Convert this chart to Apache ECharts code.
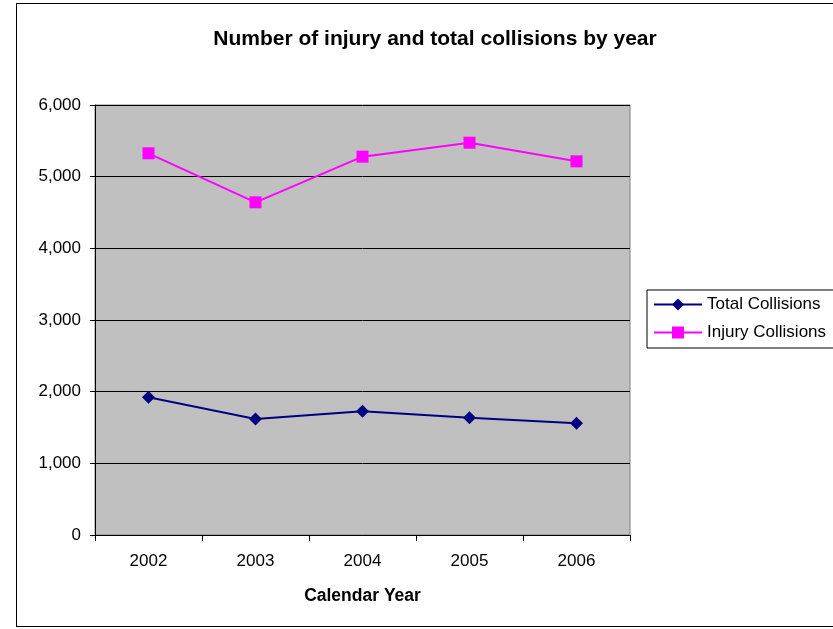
<!DOCTYPE html>
<html>
<head>
<meta charset="utf-8">
<script src="https://cdn.jsdelivr.net/npm/echarts@6/dist/echarts.min.js"></script>
<style>
html,body{margin:0;padding:0;background:#fff;overflow:hidden;}
#frame{position:absolute;left:16px;top:3px;width:840px;height:624px;border:1px solid #000;box-sizing:border-box;}
#chart{position:absolute;left:0;top:0;width:833px;height:629px;}
</style>
</head>
<body>
<div id="frame"></div>
<div id="chart"></div>
<script>
const categories = ['2002', '2003', '2004', '2005', '2006'];
const totalCollisions = [1921, 1619, 1726, 1637, 1558];
const injuryCollisions = [5326, 4642, 5279, 5474, 5214];
const yTicks = { min: 0, max: 6000, interval: 1000 };

const chart = echarts.init(document.getElementById('chart'), null, { renderer: 'canvas' });
const font = 'Liberation Sans, Arial, sans-serif';
chart.setOption({
  animation: false,
  title: {
    text: 'Number of injury and total collisions by year',
    left: 430, top: 24, textAlign: 'center',
    textStyle: { fontFamily: font, fontWeight: 'bold', fontSize: 21, color: '#000' }
  },
  grid: { left: 95, right: 203, top: 105, bottom: 94, show: true, backgroundColor: '#C0C0C0', borderColor: '#808080', borderWidth: 1 },
  legend: {
    orient: 'vertical', left: 647, top: 290,
    backgroundColor: '#fff', borderColor: '#000', borderWidth: 1,
    padding: [6, 60, 7, 6], itemGap: 11, itemWidth: 48, itemHeight: 15,
    textStyle: { fontFamily: font, fontSize: 17, color: '#000' },
    data: ['Total Collisions', 'Injury Collisions']
  },
  xAxis: {
    type: 'category', data: categories, boundaryGap: true,
    name: 'Calendar Year', nameLocation: 'middle', nameGap: 52,
    nameTextStyle: { fontFamily: font, fontWeight: 'bold', fontSize: 17.5, color: '#000' },
    axisLine: { lineStyle: { color: '#000', width: 1 } },
    axisTick: { show: true, alignWithLabel: false, length: 6, lineStyle: { color: '#000' } },
    axisLabel: { fontFamily: font, fontSize: 17, color: '#000', margin: 18 }
  },
  yAxis: {
    type: 'value', min: yTicks.min, max: yTicks.max, interval: yTicks.interval,
    axisLine: { show: true, lineStyle: { color: '#000', width: 1 } },
    axisTick: { show: true, length: 5, lineStyle: { color: '#000' } },
    axisLabel: { fontFamily: font, fontSize: 17, color: '#000', margin: 14,
      formatter: v => v.toLocaleString('en-US') },
    splitLine: { show: true, lineStyle: { color: '#000', width: 1 } }
  },
  series: [
    {
      name: 'Total Collisions', type: 'line', data: totalCollisions,
      symbol: 'diamond', symbolSize: 13,
      lineStyle: { color: '#000080', width: 2 },
      itemStyle: { color: '#000080' }
    },
    {
      name: 'Injury Collisions', type: 'line', data: injuryCollisions,
      symbol: 'rect', symbolSize: 12,
      lineStyle: { color: '#FF00FF', width: 2 },
      itemStyle: { color: '#FF00FF' }
    }
  ]
});
</script>
</body>
</html>
